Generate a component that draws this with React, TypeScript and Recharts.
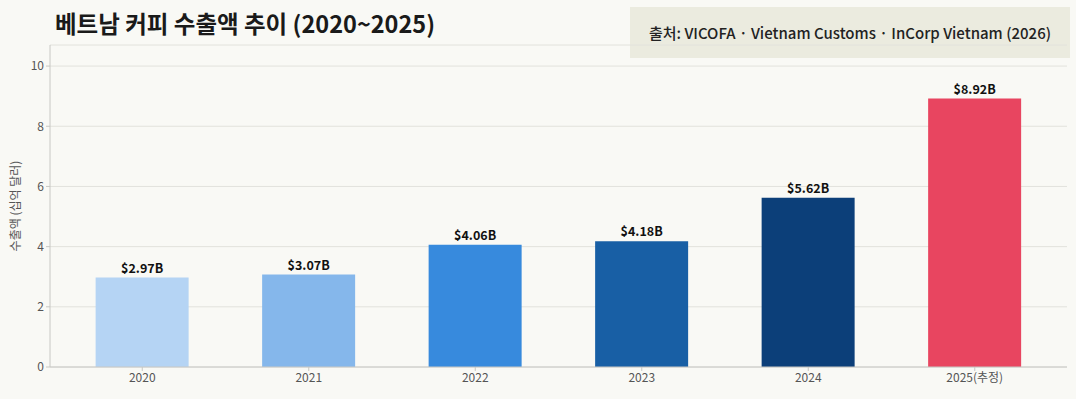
import { BarChart, Bar, XAxis, YAxis, CartesianGrid, Cell, LabelList } from 'recharts'

const years = ['2020', '2021', '2022', '2023', '2024', '2025(추정)']
const exportValues = [2.97, 3.07, 4.06, 4.18, 5.62, 8.92]
const barColors = ['#b5d4f4', '#85b7eb', '#378add', '#185fa5', '#0c3f79', '#e84560']
const yTicks = [0, 2, 4, 6, 8, 10]

const data = years.map((year, i) => ({ year, value: exportValues[i] }))

const font = '"Noto Sans CJK KR", "Noto Sans", sans-serif'

export default function App() {
  return (
    <div
      style={{
        position: 'absolute',
        top: 0,
        left: 0,
        width: 1076,
        height: 399,
        background: '#f9f9f5',
        fontFamily: font,
      }}
    >
      {/* Title */}
      <div
        style={{
          position: 'absolute',
          left: 55,
          top: 6,
          fontSize: 23.5,
          fontWeight: 700,
          color: '#1a1a1a',
          whiteSpace: 'nowrap',
        }}
      >
        베트남 커피 수출액 추이 (2020~2025)
      </div>

      {/* Source box */}
      <div
        style={{
          position: 'absolute',
          left: 630,
          top: 7,
          width: 440,
          height: 51,
          background: '#ebebdf',
          display: 'flex',
          alignItems: 'center',
          justifyContent: 'center',
          fontSize: 15,
          fontWeight: 500,
          color: '#222',
          whiteSpace: 'nowrap',
        }}
      >
        출처: VICOFA · Vietnam Customs · InCorp Vietnam (2026)
      </div>

      <BarChart
        width={1076}
        height={399}
        data={data}
        margin={{ top: 45, right: 9, bottom: 0, left: 0 }}
        barCategoryGap="22%"
        style={{ position: 'absolute', top: 0, left: 0 }}
      >
        <CartesianGrid vertical={false} stroke="#e2e2dc" />
        <XAxis
          dataKey="year"
          height={32}
          padding={{ left: 9, right: 9 }}
          stroke="#c8c8c4"
          tickSize={4}
          tick={{ fill: '#555', fontSize: 12, fontFamily: font }}
        />
        <YAxis
          width={50}
          domain={[0, 10.7]}
          ticks={yTicks}
          stroke="#c8c8c4"
          tickSize={4}
          tick={{ fill: '#555', fontSize: 12, fontFamily: font }}
          label={{
            value: '수출액 (십억 달러)',
            angle: -90,
            position: 'insideLeft',
            offset: 16,
            style: { textAnchor: 'middle', fill: '#555', fontSize: 12, fontFamily: font },
          }}
        />
        <Bar dataKey="value" isAnimationActive={false}>
          {data.map((d, i) => (
            <Cell key={d.year} fill={barColors[i]} />
          ))}
          <LabelList
            dataKey="value"
            position="top"
            offset={5}
            formatter={(v: any) => `$${Number(v).toFixed(2)}B`}
            style={{ fill: '#111', fontSize: 12.5, fontWeight: 700, fontFamily: font }}
          />
        </Bar>
      </BarChart>
    </div>
  )
}
